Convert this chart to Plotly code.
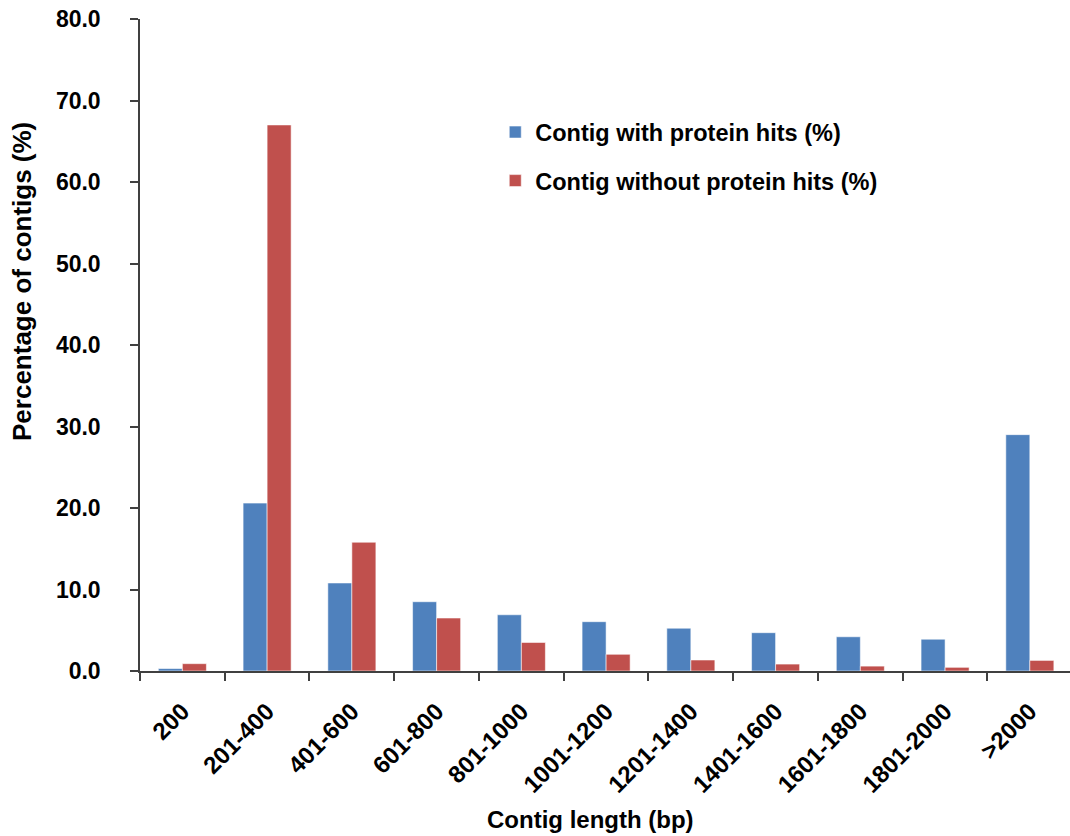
import plotly.graph_objects as go

# Contig length bins and percentage of contigs in each bin
categories = ["200", "201-400", "401-600", "601-800", "801-1000", "1001-1200",
              "1201-1400", "1401-1600", "1601-1800", "1801-2000", ">2000"]
with_hits = [0.3, 20.6, 10.8, 8.5, 6.9, 6.05, 5.25, 4.7, 4.2, 3.9, 29.0]
without_hits = [0.9, 67.0, 15.8, 6.5, 3.5, 2.05, 1.35, 0.85, 0.6, 0.45, 1.3]
y_ticks = [0, 10, 20, 30, 40, 50, 60, 70, 80]

FONT = "Arial, 'Liberation Sans', Helvetica, sans-serif"
BLUE = "#4F81BD"
RED = "#C0504D"
AXIS = "#404040"

fig = go.Figure()
fig.add_trace(go.Bar(
    x=categories, y=with_hits, name="Contig with protein hits (%)",
    marker=dict(color=BLUE, line=dict(color="rgba(255,255,255,0.55)", width=1)),
    legendgroup="a",
))
fig.add_trace(go.Bar(
    x=categories, y=without_hits, name="Contig without protein hits (%)",
    marker=dict(color=RED, line=dict(color="rgba(255,255,255,0.55)", width=1)),
    legendgroup="b",
))

fig.update_layout(
    width=1070, height=836,
    margin=dict(l=140, r=0, t=19, b=165),
    paper_bgcolor="white", plot_bgcolor="white",
    barmode="group", bargap=0.433, bargroupgap=0,
    font=dict(family=FONT, color="black", size=24, weight="bold"),
    showlegend=True,
    legend=dict(
        x=0.382, y=0.86, xanchor="left", yanchor="top",
        font=dict(family=FONT, size=23.5, weight="bold", color="black"),
        traceorder="grouped", tracegroupgap=15,
        bgcolor="rgba(0,0,0,0)", borderwidth=0,
    ),
    xaxis=dict(
        type="category", range=[-0.5, 10.474],
        showline=True, linecolor=AXIS, linewidth=1.5,
        ticks="outside", tickson="boundaries", ticklen=8, tickcolor=AXIS, tickwidth=1.5,
        tickangle=-45, ticklabelstandoff=15,
        tickfont=dict(family=FONT, size=24, weight="bold", color="black"),
        showgrid=False, zeroline=False,
    ),
    yaxis=dict(
        range=[0, 80], tickvals=y_ticks, tickformat=".1f",
        showline=True, linecolor=AXIS, linewidth=1.5,
        ticks="outside", ticklen=8, tickcolor=AXIS, tickwidth=1.5,
        ticklabelstandoff=25,
        tickfont=dict(family=FONT, size=23, weight="bold", color="black"),
        showgrid=False, zeroline=False,
    ),
    annotations=[
        dict(text="Percentage of contigs (%)", x=22, y=282, xref="paper", yref="paper",
             xanchor="center", yanchor="middle",
             showarrow=False, textangle=-90,
             font=dict(family=FONT, size=26, weight="bold", color="black")),
        dict(text="Contig length (bp)", x=590, y=819, xref="paper", yref="paper",
             xanchor="center", yanchor="middle",
             showarrow=False,
             font=dict(family=FONT, size=24, weight="bold", color="black")),
    ],
)

# Axis titles are placed in pixel coordinates converted to paper fractions
plot_w = 1070 - 140
plot_h = 836 - 19 - 165
for ann in fig.layout.annotations:
    px, py = ann.x, ann.y
    ann.x = (px - 140) / plot_w
    ann.y = (836 - 165 - py) / plot_h

fig.write_html("out.html")
